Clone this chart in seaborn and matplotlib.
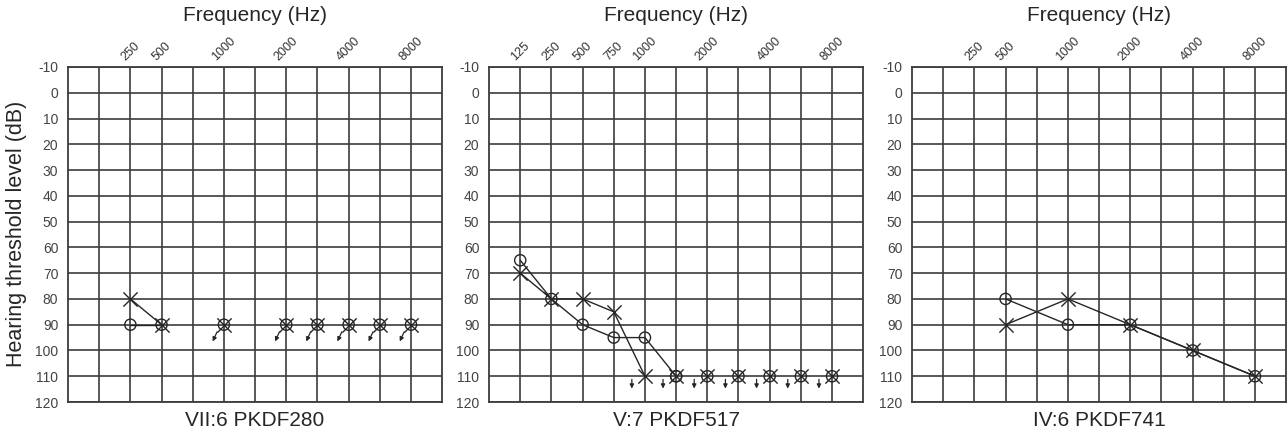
import matplotlib
matplotlib.use('Agg')
import matplotlib.pyplot as plt
import seaborn as sns

sns.set_style('white')
plt.rcParams['font.family'] = ['Liberation Sans', 'DejaVu Sans']

# audiogram columns (octaves + inter-octaves)
FREQS = [125, 250, 500, 750, 1000, 1500, 2000, 3000, 4000, 6000, 8000]
col = {f: i + 1 for i, f in enumerate(FREQS)}
DB_TICKS = [-10, 0, 10, 20, 30, 40, 50, 60, 70, 80, 90, 100, 110, 120]

# VII:6 PKDF280
p1_ticks = [250, 500, 1000, 2000, 4000, 8000]
p1_o_freq = [250, 500]
p1_o_db = [90, 90]
p1_x_freq = [250, 500]
p1_x_db = [80, 90]
p1_nr_freq = [1000, 2000, 3000, 4000, 6000, 8000]
p1_nr_db = [90, 90, 90, 90, 90, 90]

# V:7 PKDF517
p2_ticks = [125, 250, 500, 750, 1000, 2000, 4000, 8000]
p2_o_freq = [125, 250, 500, 750, 1000, 1500]
p2_o_db = [65, 80, 90, 95, 95, 110]
p2_x_freq = [125, 250, 500, 750, 1000]
p2_x_db = [70, 80, 80, 85, 110]
p2_nr_freq = [1500, 2000, 3000, 4000, 6000, 8000]
p2_nr_db = [110, 110, 110, 110, 110, 110]
p2_arrow_freq = [1000, 1500, 2000, 3000, 4000, 6000, 8000]
p2_arrow_db = [110, 110, 110, 110, 110, 110, 110]

# IV:6 PKDF741
p3_ticks = [250, 500, 1000, 2000, 4000, 8000]
p3_o_freq = [500, 1000, 2000, 4000, 8000]
p3_o_db = [80, 90, 90, 100, 110]
p3_x_freq = [500, 1000, 2000, 4000, 8000]
p3_x_db = [90, 80, 90, 100, 110]

panels = [
    dict(name='VII:6 PKDF280', ticks=p1_ticks, o=(p1_o_freq, p1_o_db), x=(p1_x_freq, p1_x_db),
         nr=(p1_nr_freq, p1_nr_db), arrows=(p1_nr_freq, p1_nr_db), arr=(-0.22, 2.8, -0.36, 6.5)),
    dict(name='V:7 PKDF517', ticks=p2_ticks, o=(p2_o_freq, p2_o_db), x=(p2_x_freq, p2_x_db),
         nr=(p2_nr_freq, p2_nr_db), arrows=(p2_arrow_freq, p2_arrow_db), arr=(-0.42, 1.2, -0.42, 4.8)),
    dict(name='IV:6 PKDF741', ticks=p3_ticks, o=(p3_o_freq, p3_o_db), x=(p3_x_freq, p3_x_db),
         nr=([], []), arrows=([], []), arr=None),
]

INK = '#262626'
GRID = '#3c3c3c'

fig = plt.figure(figsize=(12.88, 4.30), dpi=100)
lefts = [0.0528, 0.3797, 0.7081]

for left, p in zip(lefts, panels):
    ax = fig.add_axes([left, 0.0651, 0.2905, 0.7791])

    # connected thresholds
    for fr, db in (p['o'], p['x']):
        sns.lineplot(x=[col[f] for f in fr], y=db, ax=ax, color=INK, lw=1.0,
                     sort=False, estimator=None)

    # symbols: O right ear, X left ear
    o_f = p['o'][0] + p['nr'][0]
    o_d = p['o'][1] + p['nr'][1]
    x_f = p['x'][0] + p['nr'][0]
    x_d = p['x'][1] + p['nr'][1]
    sns.scatterplot(x=[col[f] for f in o_f], y=o_d, ax=ax, marker='o', s=65,
                    facecolors='none', edgecolors=INK, linewidths=1.0, zorder=4)
    sns.scatterplot(x=[col[f] for f in x_f], y=x_d, ax=ax, marker='x', s=105,
                    color=INK, linewidths=1.0, zorder=5)

    # no-response arrows
    if p['arr'] is not None:
        dx0, dy0, dx1, dy1 = p['arr']
        for f, d in zip(*p['arrows']):
            ax.annotate('', xy=(col[f] + dx1, d + dy1), xytext=(col[f] + dx0, d + dy0),
                        arrowprops=dict(arrowstyle='-|>', color=INK, lw=0.9,
                                        mutation_scale=6, shrinkA=0, shrinkB=0))

    ax.set_xlim(0, 12)
    ax.set_ylim(120, -10)
    ax.set_xticks(range(1, 12), minor=True)
    ax.set_xticks([col[f] for f in p['ticks']])
    ax.set_xticklabels([str(f) for f in p['ticks']], rotation=45, ha='center',
                       fontsize=9, color='#333333')
    ax.xaxis.tick_top()
    ax.set_yticks(DB_TICKS)
    ax.set_yticklabels([str(v) for v in DB_TICKS], fontsize=10, color='#444444')
    ax.tick_params(axis='both', which='both', length=0)
    ax.tick_params(axis='x', pad=3)
    ax.tick_params(axis='y', pad=7)
    ax.grid(True, which='both', color=GRID, lw=1.2)
    ax.set_axisbelow(True)
    for s in ax.spines.values():
        s.set_visible(True)
        s.set_color(GRID)
        s.set_linewidth(1.3)
    ax.set_xlabel('')
    ax.set_ylabel('')

    ax.text(0.5, 1.155, 'Frequency (Hz)', transform=ax.transAxes, ha='center',
            va='center', fontsize=15, color=INK)
    ax.text(0.5, -0.055, p['name'], transform=ax.transAxes, ha='center',
            va='center', fontsize=15, color=INK)

fig.text(0.013, 0.455, 'Hearing threshold level (dB)', rotation=90, ha='center',
         va='center', fontsize=15.5, color=INK)

fig.savefig('out.png', dpi=100)
